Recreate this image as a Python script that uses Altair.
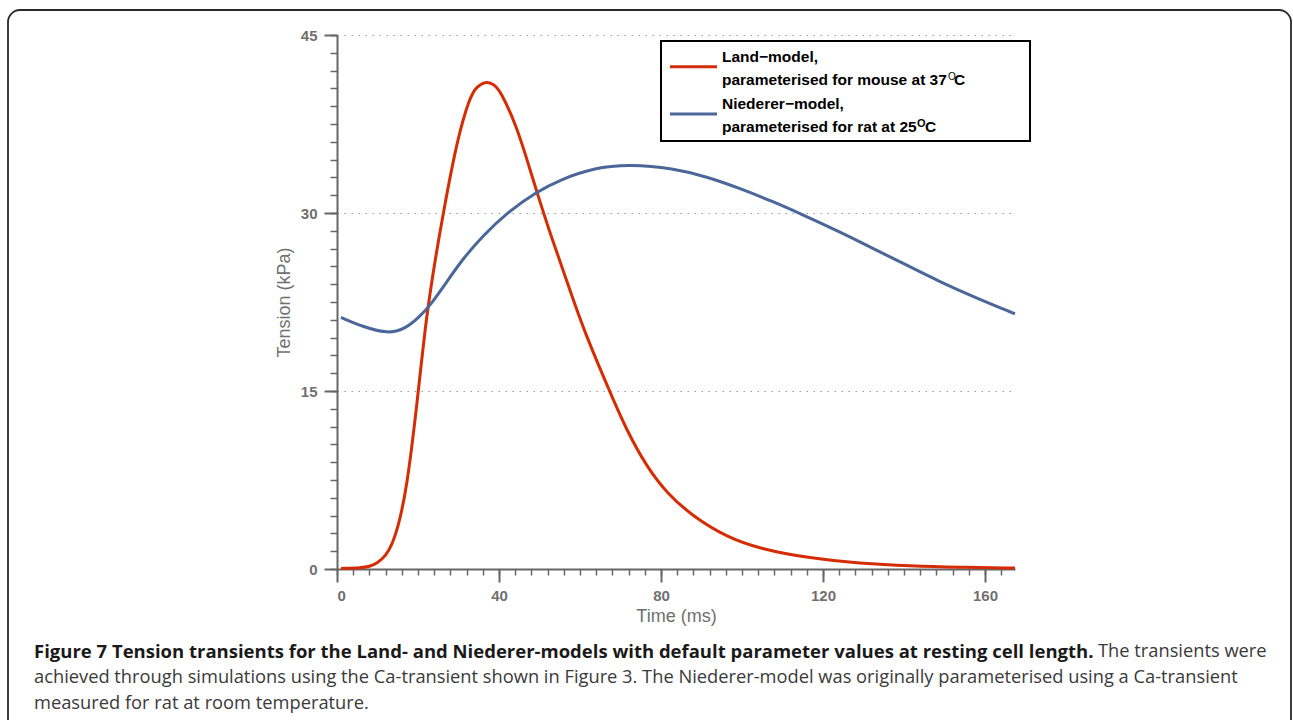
import altair as alt
import pandas as pd

# ---- data ----
land_t = [1, 6, 8, 10, 12, 13.5, 15, 17.2, 19.7, 22.1, 24.6, 26.3, 29.6, 32.8, 34.5, 36.7,
          38.6, 40.2, 44.4, 47.7, 49.7, 52.6, 55.1, 57.5, 61.2, 67.4, 71.5, 76.5, 81.4, 88,
          96.2, 104.4, 116.8, 129.1, 141.5, 153.8, 167.4]
land_v = [0.05, 0.1, 0.2, 0.5, 1.1, 2.0, 3.4, 6.7, 13.7, 21.5, 26.8, 30.1, 36.1, 39.8, 40.65, 41.1,
          40.87, 40.4, 37.3, 33.6, 31.4, 28.3, 25.9, 23.5, 19.9, 14.9, 11.7, 8.6, 6.4, 4.4,
          2.7, 1.7, 0.9, 0.48, 0.25, 0.14, 0.08]

nied_t = [1, 6.5, 12.7, 17.2, 20.5, 23, 27.1, 31.2, 36.1, 41.9, 49.3, 55.1, 63.3, 72.3, 83.0,
          91.3, 99.5, 107.7, 114.3, 124.2, 132.4, 140.7, 148.9, 157.1, 167.4]
nied_v = [21.2, 20.4, 19.8, 20.3, 21.3, 22.2, 24.2, 26.2, 28.1, 30.0, 31.8, 32.8, 33.8, 34.1, 33.76,
          33.06, 32.07, 30.95, 29.96, 28.4, 27.0, 25.6, 24.2, 22.95, 21.5]

models = ["Land", "Niederer"]
colors = ["#d62c04", "#4b6698"]

x_major = [0, 40, 80, 120, 160]
x_minor = list(range(0, 168, 4))
y_major = [0, 15, 30, 45]
y_minor = [i * 1.5 for i in range(31)]

legend_lines = ["Land\u2212model,", "parameterised for mouse at 37",
                "Niederer\u2212model,", "parameterised for rat at 25"]
caption_bold = "Figure 7 Tension transients for the Land- and Niederer-models with default parameter values at resting cell length."
caption_rest = "The transients were"
caption_line2 = "achieved through simulations using the Ca-transient shown in Figure 3. The Niederer-model was originally parameterised using a Ca-transient"
caption_line3 = "measured for rat at room temperature."

df = pd.concat([
    pd.DataFrame({"t": land_t, "v": land_v, "model": models[0]}),
    pd.DataFrame({"t": nied_t, "v": nied_v, "model": models[1]}),
], ignore_index=True)

W, H = 678, 534
xs = alt.Scale(domain=[0, 167.4], nice=False, zero=False)
ys = alt.Scale(domain=[0, 45], nice=False)

AX_FONT = "Liberation Sans"
AX_GRAY = "#666666"
LBL_GRAY = "#707070"

major_x = alt.Axis(orient="bottom", values=x_major, format="d", domainColor=AX_GRAY, domainWidth=2,
                   tickColor=AX_GRAY, tickWidth=2, tickSize=13, labelFont=AX_FONT, labelFontSize=15,
                   labelFontWeight="bold", labelColor=LBL_GRAY, labelPadding=6, grid=False,
                   title="Time (ms)", titleFont=AX_FONT, titleFontSize=18, titleFontWeight="normal",
                   titleColor=LBL_GRAY, titleX=W / 2, titleY=47, titleBaseline="middle",
                   titleAlign="center")
major_y = alt.Axis(orient="left", values=y_major, format="d", domainColor=AX_GRAY, domainWidth=2,
                   tickColor=AX_GRAY, tickWidth=2, tickSize=13, labelFont=AX_FONT, labelFontSize=15,
                   labelFontWeight="bold", labelColor=LBL_GRAY, labelPadding=7, grid=True,
                   gridColor="#9a9a9a", gridDash=[1.5, 5.5], gridWidth=1.2,
                   title="Tension (kPa)", titleFont=AX_FONT, titleFontSize=18, titleFontWeight="normal",
                   titleColor=LBL_GRAY, titleX=-53, titleY=H / 2, titleAngle=270,
                   titleBaseline="middle", titleAlign="center")
minor_x = alt.Axis(orient="bottom", values=x_minor, labels=False, domain=False, grid=False, title=None,
                   tickColor=AX_GRAY, tickWidth=1.5, tickSize=6)
minor_y = alt.Axis(orient="left", values=y_minor, labels=False, domain=False, grid=False, title=None,
                   tickColor=AX_GRAY, tickWidth=1.5, tickSize=7)

lines = alt.Chart(df).mark_line(strokeWidth=3, interpolate="basis").encode(
    x=alt.X("t:Q", scale=xs, axis=major_x),
    y=alt.Y("v:Q", scale=ys, axis=major_y),
    color=alt.Color("model:N", scale=alt.Scale(domain=models, range=colors), legend=None),
)

minor = alt.Chart(df).mark_point(opacity=0).encode(
    x=alt.X("t:Q", scale=xs, axis=minor_x),
    y=alt.Y("v:Q", scale=ys, axis=minor_y),
)

one = pd.DataFrame({"k": [0]})

# frame
frame = alt.Chart(one).mark_rect(fillOpacity=0, stroke="#2a2a2a", strokeWidth=1.8, cornerRadius=12).encode(
    x=alt.value(-329), x2=alt.value(954), y=alt.value(-25), y2=alt.value(700))

# legend
leg_box = alt.Chart(one).mark_rect(fill="white", stroke="black", strokeWidth=2).encode(
    x=alt.value(324), x2=alt.value(693), y=alt.value(6), y2=alt.value(106))
leg_red = alt.Chart(one).mark_rule(color=colors[0], strokeWidth=3).encode(
    x=alt.value(333), x2=alt.value(380), y=alt.value(31.7))
leg_blue = alt.Chart(one).mark_rule(color=colors[1], strokeWidth=3).encode(
    x=alt.value(333), x2=alt.value(380), y=alt.value(79))


def txt(s, x, y, size=15.5, weight="bold", font=AX_FONT, color="black", baseline="alphabetic"):
    return alt.Chart(one).mark_text(text=s, font=font, fontSize=size, fontWeight=weight, color=color,
                                    align="left", baseline=baseline).encode(
        x=alt.value(x), y=alt.value(y))


leg_texts = [
    txt(legend_lines[0], 385, 26.7),
    txt(legend_lines[1], 385, 50),
    txt("O", 611, 45, size=10, weight="normal"),
    txt("C", 617, 50),
    txt(legend_lines[2], 385, 73.5),
    txt(legend_lines[3], 385, 96.5),
    txt("O", 580, 92, size=11, weight="bold"),
    txt("C", 588, 96.5),
]

CAP_FONT = "Open Sans"
caption = [
    txt(caption_bold, -303, 617, size=18.5, weight="bold", font=CAP_FONT, color="#1a1a1a", baseline="middle"),
    txt(caption_rest, 761, 617, size=18.3, weight="normal", font=CAP_FONT, color="#3a3a3a", baseline="middle"),
    txt(caption_line2, -303, 643, size=18.3, weight="normal", font=CAP_FONT, color="#3a3a3a", baseline="middle"),
    txt(caption_line3, -303, 669, size=18.3, weight="normal", font=CAP_FONT, color="#3a3a3a", baseline="middle"),
]

chart = alt.layer(
    frame, lines, minor, leg_box, leg_red, leg_blue, *leg_texts, *caption
).resolve_axis(x="independent", y="independent").properties(
    width=W, height=H,
    autosize=alt.AutoSizeParams(type="none"),
    padding={"left": 337, "top": 35, "right": 1293 - 337 - W, "bottom": 720 - 35 - H},
    background="white",
).configure_view(stroke=None)

chart.save("out.html", embed_options={"renderer": "svg", "actions": False})
